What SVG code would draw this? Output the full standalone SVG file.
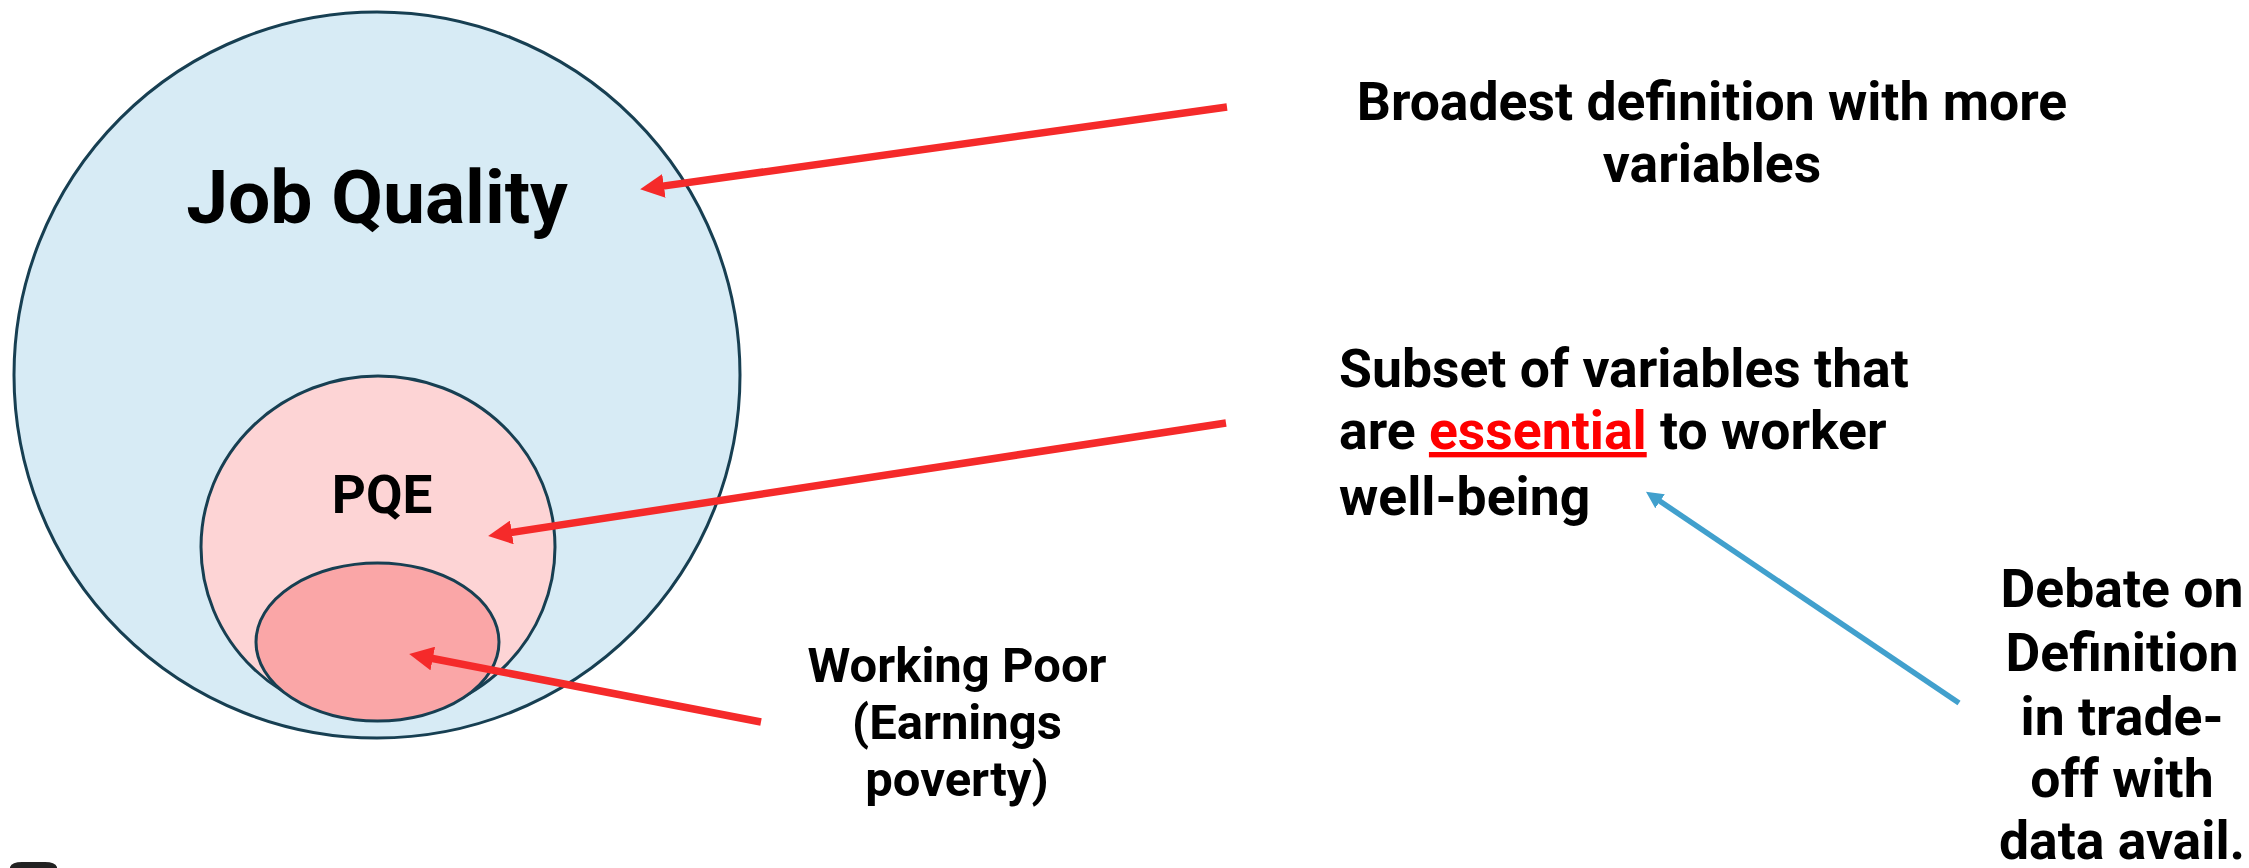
<svg xmlns="http://www.w3.org/2000/svg" width="2249" height="868" viewBox="0 0 2249 868">
<style>
.set{stroke:#173F52;stroke-width:3}
.t{font-family:Roboto,"Liberation Sans",sans-serif;font-weight:bold;fill:#000}
.c{text-anchor:middle}
.red{stroke:#F52A2A;stroke-width:7.5;fill:none}
.blue{stroke:#41A0CD;stroke-width:5.5;fill:none}
</style>
<defs>
<marker id="ah-red" viewBox="0 0 10 10" refX="5" refY="5" markerUnits="userSpaceOnUse" markerWidth="24" markerHeight="24" orient="auto">
<path d="M0,0 L10,5 L0,10 z" fill="#F52A2A"/>
</marker>
<marker id="ah-blue" viewBox="0 0 10 10" refX="5" refY="5" markerUnits="userSpaceOnUse" markerWidth="17" markerHeight="18" orient="auto">
<path d="M0,0 L10,5 L0,10 z" fill="#41A0CD"/>
</marker>
</defs>
<rect width="2249" height="868" fill="#fff"/>
<g id="job-quality">
<ellipse class="set" cx="377" cy="375" rx="363" ry="363" fill="#D7EBF5"/>
<text class="t c" x="377" y="223" font-size="75">Job Quality</text>
</g>
<g id="pqe">
<ellipse class="set" cx="378" cy="547" rx="177" ry="171" fill="#FDD4D5"/>
<text class="t c" x="382" y="513" font-size="53">PQE</text>
</g>
<g id="working-poor">
<ellipse class="set" cx="377.5" cy="642" rx="121.5" ry="79" fill="#FAA6A7"/>
</g>
<g id="label-working-poor">
<text class="t c" font-size="49"><tspan x="957" y="682">Working Poor</tspan><tspan x="957" y="739">(Earnings</tspan><tspan x="957" y="796">poverty)</tspan></text>
</g>
<g id="label-broadest">
<text class="t c" font-size="53.5"><tspan x="1712" y="120">Broadest definition with more</tspan><tspan x="1712" y="182">variables</tspan></text>
</g>
<g id="label-subset">
<text class="t" font-size="53.5"><tspan x="1339" y="387">Subset of variables that</tspan><tspan x="1339" y="449">are <tspan fill="#FF0000" text-decoration="underline">essential</tspan> to worker</tspan><tspan x="1339" y="515">well-being</tspan></text>
</g>
<g id="label-debate">
<text class="t c" font-size="53.5"><tspan x="2122" y="607">Debate on</tspan><tspan x="2122" y="671">Definition</tspan><tspan x="2122" y="735">in trade-</tspan><tspan x="2122" y="797">off with</tspan><tspan x="2122" y="859">data avail.</tspan></text>
</g>
<g id="connectors">
<line class="red" x1="1227" y1="107" x2="652" y2="187.6" marker-end="url(#ah-red)"/>
<line class="red" x1="1226" y1="423" x2="500" y2="534.2" marker-end="url(#ah-red)"/>
<line class="red" x1="761" y1="722" x2="421" y2="656.3" marker-end="url(#ah-red)"/>
<line class="blue" x1="1959" y1="703" x2="1653" y2="496.5" marker-end="url(#ah-blue)"/>
</g>
<path d="M10,868 L10,867 Q12,862 22,862 L45,862 Q55,862 57,867 L57,868 z" fill="#222"/>
</svg>
